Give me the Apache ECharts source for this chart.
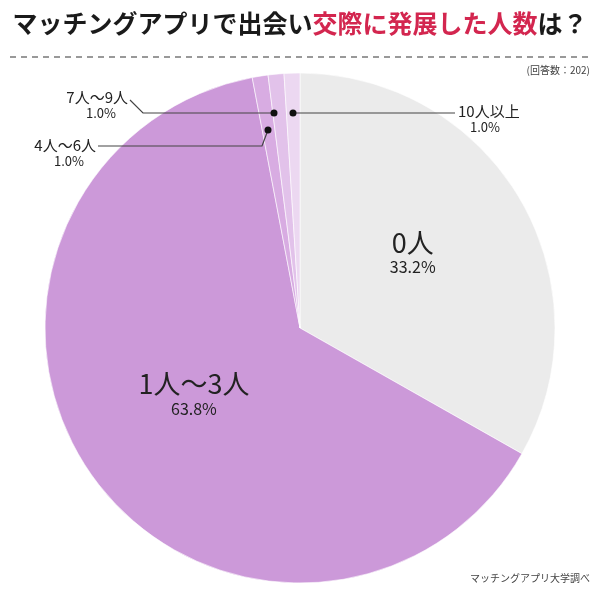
<!DOCTYPE html>
<html><head><meta charset="utf-8">
<script src="https://cdn.jsdelivr.net/npm/echarts@6/dist/echarts.min.js"></script>
<style>html,body{margin:0;padding:0;background:#fff}#c{width:600px;height:595px}</style>
</head><body><div id="c"></div>
<script>
const categories = ['0人','1人〜3人','4人〜6人','7人〜9人','10人以上'];
const values = [33.2, 63.8, 1.0, 1.0, 1.0];
const colors = ['#ebebeb','#cc99d9','#d8acE2','#e2c2ea','#ecd8f1'];
const F = '"Noto Sans CJK JP", sans-serif';
const chart = echarts.init(document.getElementById('c'));
const ink = '#222';
function lbl(x,y,t1,t2,align){
  return [
    {type:'text',z:100,x:x,y:y,style:{text:t1,font:'15px '+F,fill:ink,align:align,verticalAlign:'middle'}},
    {type:'text',z:100,x:x+(align==='right'?-12:12),y:y+16,style:{text:t2,font:'13px '+F,fill:ink,align:align==='right'?'right':'left',verticalAlign:'middle'}}
  ];
}
chart.setOption({
  animation:false,
  title:{text:'{a|マッチングアプリで出会い}{b|交際に発展した人数}{a|は？}',left:'center',top:6,
    textStyle:{rich:{a:{fontSize:25,fontWeight:'bold',color:'#1a1a1a',fontFamily:F},b:{fontSize:25,fontWeight:'bold',color:'#d3264f',fontFamily:F}}}},
  series:[{
    type:'pie',center:[300,328],radius:[0,255],startAngle:90,clockwise:true,
    itemStyle:{borderColor:'#fff',borderWidth:0.6},
    label:{show:true,position:'inside',offset:[0,-10],formatter:p=>p.dataIndex<2?'{n|'+p.name+'}\n{v|'+p.value.toFixed(1)+'%}':'',
      rich:{n:{fontSize:27,color:'#222',fontFamily:F,lineHeight:30},v:{fontSize:16,color:'#222',fontFamily:F,lineHeight:20}}},
    labelLine:{show:false},
    data:categories.map((c,i)=>({name:c,value:values[i],itemStyle:{color:colors[i]}}))
  }],
  graphic:{elements:[
    {type:'line',shape:{x1:10,y1:57,x2:590,y2:57},style:{stroke:'#999',lineWidth:2,lineDash:[6,5]}},
    {type:'text',x:590,y:70,style:{text:'(回答数：202)',font:'10px '+F,fill:'#444',align:'right',verticalAlign:'middle'}},
    {type:'text',x:590,y:578,style:{text:'マッチングアプリ大学調べ',font:'10px '+F,fill:'#444',align:'right',verticalAlign:'middle'}},
    {type:'polyline',z:100,shape:{points:[[293,113],[455,113]]},style:{stroke:'#444',lineWidth:1.2,fill:null}},
    {type:'polyline',z:100,shape:{points:[[274,113],[143,113],[130,100]]},style:{stroke:'#444',lineWidth:1.2,fill:null}},
    {type:'polyline',z:100,shape:{points:[[268,130],[262,146],[98,146]]},style:{stroke:'#444',lineWidth:1.2,fill:null}},
    {type:'circle',z:100,shape:{cx:293,cy:113,r:3.5},style:{fill:'#111'}},
    {type:'circle',z:100,shape:{cx:274,cy:113,r:3.5},style:{fill:'#111'}},
    {type:'circle',z:100,shape:{cx:268,cy:130,r:3.5},style:{fill:'#111'}},
    ...lbl(458,111,'10人以上','1.0%','left'),
    ...lbl(128,97,'7人〜9人','1.0%','right'),
    ...lbl(96,145,'4人〜6人','1.0%','right')
  ]}
});
</script></body></html>
